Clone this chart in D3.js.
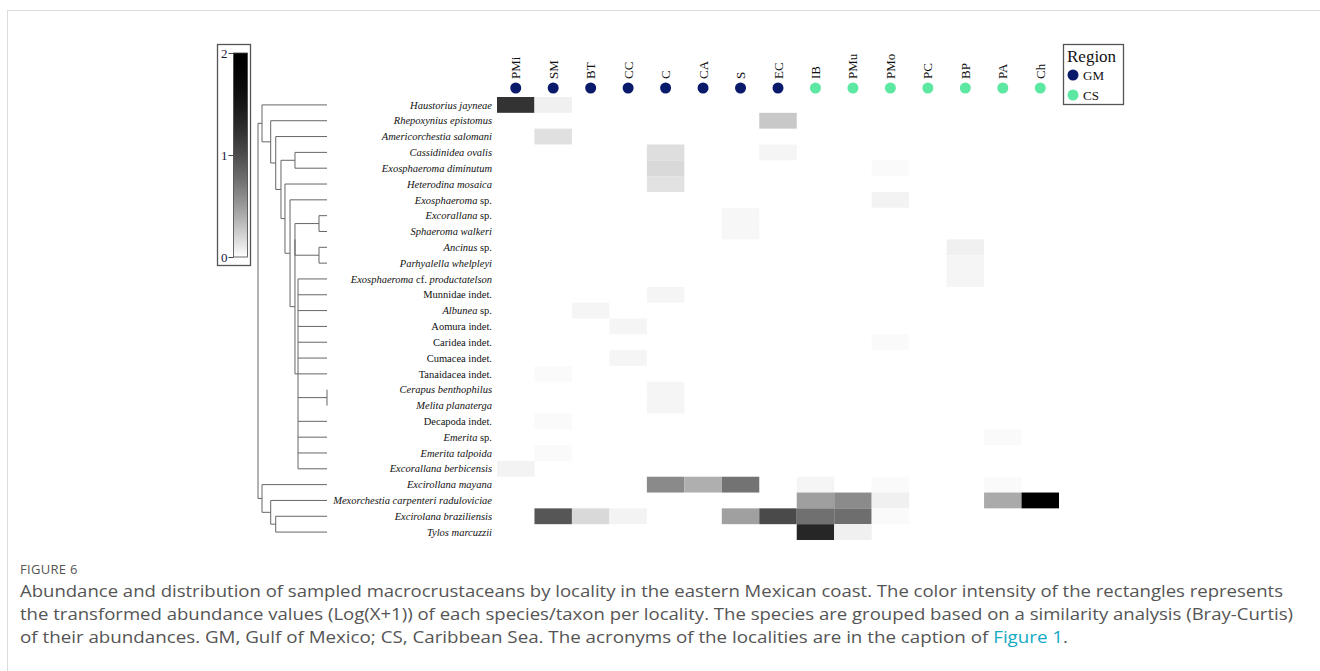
<!DOCTYPE html>
<html>
<head>
<meta charset="utf-8">
<script src="https://cdn.jsdelivr.net/npm/d3@7"></script>
<style>
  body { margin: 0; background: #fff; }
  svg { display: block; }
</style>
</head>
<body>
<svg id="chart" width="1320" height="671"></svg>
<script>
// localities (columns) and the region each belongs to
const localities = ['PMi', 'SM', 'BT', 'CC', 'C', 'CA', 'S', 'EC', 'IB', 'PMu', 'PMo', 'PC', 'BP', 'PA', 'Ch'];
const localityRegion = ['GM', 'GM', 'GM', 'GM', 'GM', 'GM', 'GM', 'GM', 'CS', 'CS', 'CS', 'CS', 'CS', 'CS', 'CS'];
const regions = ['GM', 'CS'];
const regionColors = ['#0a1a6b', '#5ce8a2'];

// taxa (rows), *..* = italic
const taxa = [
  '*Haustorius jayneae*',
  '*Rhepoxynius epistomus*',
  '*Americorchestia salomani*',
  '*Cassidinidea ovalis*',
  '*Exosphaeroma diminutum*',
  '*Heterodina mosaica*',
  '*Exosphaeroma* sp.',
  '*Excorallana* sp.',
  '*Sphaeroma walkeri*',
  '*Ancinus* sp.',
  '*Parhyalella whelpleyi*',
  '*Exosphaeroma* cf. *productatelson*',
  'Munnidae indet.',
  '*Albunea* sp.',
  'Aomura indet.',
  'Caridea indet.',
  'Cumacea indet.',
  'Tanaidacea indet.',
  '*Cerapus benthophilus*',
  '*Melita planaterga*',
  'Decapoda indet.',
  '*Emerita* sp.',
  '*Emerita talpoida*',
  '*Excorallana berbicensis*',
  '*Excirollana mayana*',
  '*Mexorchestia carpenteri raduloviciae*',
  '*Excirolana braziliensis*',
  '*Tylos marcuzzii*'
];

// Log(X+1) abundance, one row per taxon, columns as localities
const abundance = [
  [1.21, 0.07, 0, 0, 0, 0, 0, 0, 0, 0, 0, 0, 0, 0, 0],
  [0, 0, 0, 0, 0, 0, 0, 0.26, 0, 0, 0, 0, 0, 0, 0],
  [0, 0.145, 0, 0, 0, 0, 0, 0, 0, 0, 0, 0, 0, 0, 0],
  [0, 0, 0, 0, 0.155, 0, 0, 0.046, 0, 0, 0, 0, 0, 0, 0],
  [0, 0, 0, 0, 0.18, 0, 0, 0, 0, 0, 0.023, 0, 0, 0, 0],
  [0, 0, 0, 0, 0.135, 0, 0, 0, 0, 0, 0, 0, 0, 0, 0],
  [0, 0, 0, 0, 0, 0, 0, 0, 0, 0, 0.055, 0, 0, 0, 0],
  [0, 0, 0, 0, 0, 0, 0.037, 0, 0, 0, 0, 0, 0, 0, 0],
  [0, 0, 0, 0, 0, 0, 0.037, 0, 0, 0, 0, 0, 0, 0, 0],
  [0, 0, 0, 0, 0, 0, 0, 0, 0, 0, 0, 0, 0.069, 0, 0],
  [0, 0, 0, 0, 0, 0, 0, 0, 0, 0, 0, 0, 0.046, 0, 0],
  [0, 0, 0, 0, 0, 0, 0, 0, 0, 0, 0, 0, 0.046, 0, 0],
  [0, 0, 0, 0, 0.046, 0, 0, 0, 0, 0, 0, 0, 0, 0, 0],
  [0, 0, 0.046, 0, 0, 0, 0, 0, 0, 0, 0, 0, 0, 0, 0],
  [0, 0, 0, 0.046, 0, 0, 0, 0, 0, 0, 0, 0, 0, 0, 0],
  [0, 0, 0, 0, 0, 0, 0, 0, 0, 0, 0.023, 0, 0, 0, 0],
  [0, 0, 0, 0.046, 0, 0, 0, 0, 0, 0, 0, 0, 0, 0, 0],
  [0, 0.023, 0, 0, 0, 0, 0, 0, 0, 0, 0, 0, 0, 0, 0],
  [0, 0, 0, 0, 0.046, 0, 0, 0, 0, 0, 0, 0, 0, 0, 0],
  [0, 0, 0, 0, 0.046, 0, 0, 0, 0, 0, 0, 0, 0, 0, 0],
  [0, 0.023, 0, 0, 0, 0, 0, 0, 0, 0, 0, 0, 0, 0, 0],
  [0, 0, 0, 0, 0, 0, 0, 0, 0, 0, 0, 0, 0, 0.023, 0],
  [0, 0.023, 0, 0, 0, 0, 0, 0, 0, 0, 0, 0, 0, 0, 0],
  [0.055, 0, 0, 0, 0, 0, 0, 0, 0, 0, 0, 0, 0, 0, 0],
  [0, 0, 0, 0, 0.60, 0.39, 0.74, 0, 0.046, 0, 0.023, 0, 0, 0.023, 0],
  [0, 0, 0, 0, 0, 0, 0, 0, 0.48, 0.59, 0.069, 0, 0, 0.42, 2.0],
  [0, 0.93, 0.18, 0.055, 0, 0, 0.47, 1.02, 0.76, 0.77, 0.023, 0, 0, 0, 0],
  [0, 0, 0, 0, 0, 0, 0, 0, 1.33, 0.069, 0, 0, 0, 0, 0]
];

const colorTicks = [0, 1, 2];

// dendrogram: [height, child, child, ...]; numbers are row indices
const tree = [1.00,
  [0.942, 0, [0.816, 1, [0.743, 2, [0.667, [0.464, 3, 4], [0.609, 5, [0.536, 6,
    [0.464, [0.464, [0.116, 7, 8], [0.116, 9, 10]],
      [0.42, 11, 12, 13, 14, 15, 16, 17, [0, 18, 19], 20, 21, 22, 23]]]]]]]],
  [0.942, 24, [0.816, 25, [0.743, 26, 27]]]
];

const svg = d3.select('#chart');
const serif = "'Liberation Serif', 'Times New Roman', serif";

const x = d3.scaleBand().domain(localities).range([497, 1059]);
const y = d3.scaleBand().domain(d3.range(taxa.length)).range([97, 540]);
// white -> black, darkening quickly towards 1
const shade = d3.scalePow().exponent(1.73).domain([0, 1]).range([0, 255]);
const color = v => { const g = Math.round(shade(1 - v / 2)); return d3.rgb(g, g, g).formatHex(); };

// frame
svg.append('line').attr('x1', 7).attr('x2', 1320).attr('y1', 10.5).attr('y2', 10.5).attr('stroke', '#dcdcdc');
svg.append('line').attr('x1', 7.5).attr('x2', 7.5).attr('y1', 10).attr('y2', 671).attr('stroke', '#dcdcdc');

// heatmap cells
const cells = [];
abundance.forEach((row, i) => row.forEach((v, j) => { if (v > 0) cells.push({ i, j, v }); }));
svg.append('g').selectAll('rect').data(cells).join('rect')
  .attr('x', d => x(localities[d.j]))
  .attr('y', d => y(d.i))
  .attr('width', x.bandwidth())
  .attr('height', y.bandwidth())
  .attr('fill', d => color(d.v));

// row labels
const rowLab = svg.append('g').selectAll('text').data(taxa).join('text')
  .attr('x', 492)
  .attr('y', (d, i) => y(i) + y.bandwidth() / 2)
  .attr('dy', '0.35em')
  .attr('text-anchor', 'end')
  .attr('font-family', serif)
  .attr('font-size', 10.5)
  .attr('fill', '#111');
rowLab.each(function (d) {
  const t = d3.select(this);
  d.split('*').forEach((part, k) => {
    if (!part) return;
    t.append('tspan').attr('font-style', k % 2 ? 'italic' : 'normal').text(part);
  });
});

// column labels and region dots
const colG = svg.append('g');
colG.selectAll('text').data(localities).join('text')
  .attr('transform', d => `translate(${x(d) + x.bandwidth() / 2 + 4.5},79) rotate(-90)`)
  .attr('font-family', serif)
  .attr('font-size', 13)
  .attr('fill', '#111')
  .text(d => d);
colG.selectAll('circle').data(localities).join('circle')
  .attr('cx', d => x(d) + x.bandwidth() / 2)
  .attr('cy', 88)
  .attr('r', 5.5)
  .attr('fill', (d, i) => regionColors[regions.indexOf(localityRegion[i])]);

// region legend
const leg = svg.append('g');
leg.append('rect').attr('x', 1063.5).attr('y', 44.5).attr('width', 60).attr('height', 60)
  .attr('fill', 'none').attr('stroke', '#555').attr('stroke-width', 1.3);
leg.append('text').attr('x', 1067).attr('y', 62).attr('font-family', serif).attr('font-size', 17).attr('fill', '#111').text('Region');
regions.forEach((r, k) => {
  leg.append('circle').attr('cx', 1073).attr('cy', 75 + k * 20).attr('r', 5.5).attr('fill', regionColors[k]);
  leg.append('text').attr('x', 1083).attr('y', 75 + k * 20).attr('dy', '0.35em')
    .attr('font-family', serif).attr('font-size', 13).attr('fill', '#111').text(r);
});

// colour bar
const cb = svg.append('g');
const cy = d3.scaleLinear().domain([0, 2]).range([257, 53]);
const defs = svg.append('defs');
const grad = defs.append('linearGradient').attr('id', 'cbar').attr('x1', 0).attr('x2', 0).attr('y1', 1).attr('y2', 0);
d3.range(0, 2.001, 0.1).forEach(v => grad.append('stop').attr('offset', v / 2).attr('stop-color', color(v)));
cb.append('rect').attr('x', 217.5).attr('y', 44.5).attr('width', 33).attr('height', 221)
  .attr('fill', 'none').attr('stroke', '#555').attr('stroke-width', 1.3);
cb.append('rect').attr('x', 233.5).attr('y', cy(2)).attr('width', 14).attr('height', cy(0) - cy(2))
  .attr('fill', 'url(#cbar)').attr('stroke', '#444').attr('stroke-width', 0.8);
cb.append('g').attr('transform', 'translate(233.5,0)')
  .call(d3.axisLeft(cy).tickValues(colorTicks).tickSize(5).tickFormat(d3.format('d')))
  .call(g => g.select('.domain').remove())
  .call(g => g.selectAll('line').attr('stroke', '#444'))
  .call(g => g.selectAll('text').attr('font-family', serif).attr('font-size', 13).attr('fill', '#1a1a3a').attr('x', -6));

// dendrogram
const dx = d3.scaleLinear().domain([0, 1]).range([327, 258]);
const dg = svg.append('g').attr('fill', 'none').attr('stroke', '#666').attr('stroke-width', 1);
function layout(node) {
  if (typeof node === 'number') return { y: y(node) + y.bandwidth() / 2, x: dx(0) };
  const h = node[0];
  const kids = node.slice(1).map(layout);
  const xn = dx(h);
  const ys = kids.map(k => k.y);
  dg.append('line').attr('x1', xn).attr('x2', xn).attr('y1', d3.min(ys)).attr('y2', d3.max(ys));
  kids.forEach(k => dg.append('line').attr('x1', xn).attr('x2', k.x).attr('y1', k.y).attr('y2', k.y));
  return { x: xn, y: (d3.min(ys) + d3.max(ys)) / 2 };
}
layout(tree);

// caption
const cap = svg.append('g').attr('font-family', "'Open Sans', 'Noto Sans', sans-serif").attr('fill', '#555');
cap.append('text').attr('x', 20).attr('y', 574).attr('font-size', 13).attr('letter-spacing', 0.3).text('FIGURE 6');
const lines = [
  'Abundance and distribution of sampled macrocrustaceans by locality in the eastern Mexican coast. The color intensity of the rectangles represents',
  'the transformed abundance values (Log(X+1)) of each species/taxon per locality. The species are grouped based on a similarity analysis (Bray-Curtis)'
];
const lineEnds = [1283, 1293];
lines.forEach((l, k) => cap.append('text').attr('x', 20).attr('y', 597 + k * 23).attr('font-size', 16)
  .attr('textLength', lineEnds[k] - 20).attr('lengthAdjust', 'spacingAndGlyphs').text(l));
const l3 = cap.append('text').attr('x', 20).attr('y', 643).attr('font-size', 16)
  .attr('textLength', 1068 - 20).attr('lengthAdjust', 'spacingAndGlyphs');
l3.append('tspan').text('of their abundances. GM, Gulf of Mexico; CS, Caribbean Sea. The acronyms of the localities are in the caption of ');
l3.append('tspan').attr('fill', '#14a9c4').text('Figure 1');
l3.append('tspan').text('.');
</script>
</body>
</html>
